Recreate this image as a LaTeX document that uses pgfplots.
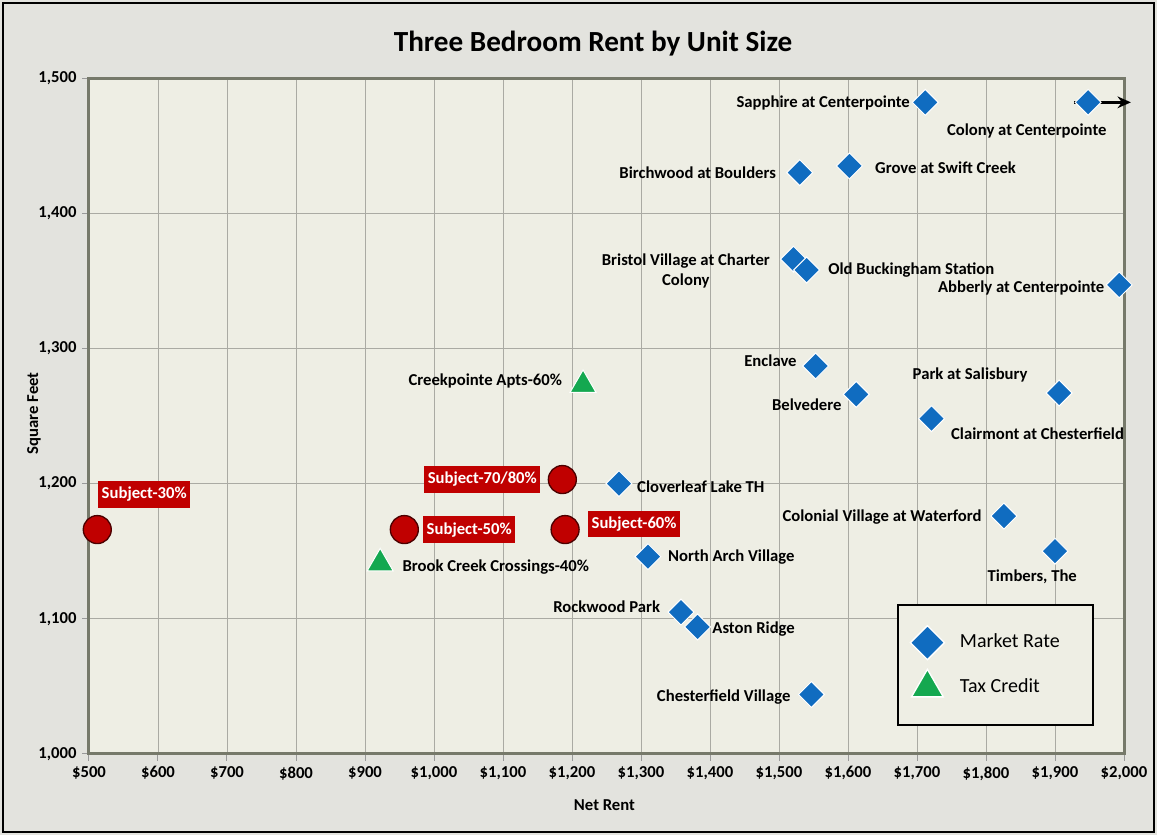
\documentclass[border=0pt]{standalone}
\usepackage{fontspec}
\setmainfont{Carlito}
\usepackage{pgfplots}
\pgfplotsset{compat=1.18}
\usetikzlibrary{arrows.meta,backgrounds}
\definecolor{cBlue}{RGB}{16,108,192}
\definecolor{cGreen}{RGB}{20,168,80}
\definecolor{cRed}{RGB}{192,0,0}
\definecolor{cBg}{RGB}{227,227,222}
\definecolor{cPlot}{RGB}{238,238,228}
\definecolor{cGrid}{RGB}{170,170,163}
\definecolor{cAxis}{RGB}{118,121,106}
\newcommand{\lblfont}{\bfseries\fontsize{10}{12}\selectfont}
\tikzset{lbl/.style={font=\lblfont, inner sep=0pt},
  subj/.style={font=\lblfont, fill=cRed, text=white, inner xsep=2pt, inner ysep=3.5pt}}

\pgfplotstableread{
x y
1712 1482
1948 1482
1530 1430
1602 1435
1521 1366
1540 1358
1993 1347
1553 1287
1612 1266
1906 1267
1721 1248
1268 1200
1826 1176
1900 1150
1310 1146
1358 1105
1382 1094
1547 1044
}\marketrate
\pgfplotstableread{
x y
1216 1273
922 1141
}\taxcredit
\pgfplotstableread{
x y
512 1166
957 1166
1186 1203
1190 1166
}\subject

\begin{document}
\begin{tikzpicture}
\begin{axis}[at={(0,0)}, anchor=south west,
  width=621pt, height=405.6pt, scale only axis,
  xmin=500, xmax=2000, ymin=1000, ymax=1500,
  xtick={500,600,...,2000}, ytick={1000,1100,...,1500},
  xticklabels={\$500,\$600,\$700,\$800,\$900,{\$1,000},{\$1,100},{\$1,200},{\$1,300},{\$1,400},{\$1,500},{\$1,600},{\$1,700},{\$1,800},{\$1,900},{\$2,000}},
  yticklabels={{1,000},{1,100},{1,200},{1,300},{1,400},{1,500}},
  grid=major, major grid style={draw=cGrid, line width=0.5pt},
  axis line style={draw=cAxis, line width=1.8pt},
  tick pos=left, tick align=outside, major tick length=4pt,
  tick style={draw=gray!80, line width=0.6pt},
  ticklabel style={font=\lblfont},
  axis background/.style={fill=cPlot},
  clip=false,
  title={Three Bedroom Rent by Unit Size},
  title style={at={(axis description cs:0.487,1)}, anchor=center, yshift=14.4pt, font=\bfseries\fontsize{17.5}{20}\selectfont},
  xlabel={Net Rent}, ylabel={Square Feet},
  xlabel style={at={(axis description cs:0.498,0)}, anchor=center, yshift=-30.6pt, font=\lblfont},
  ylabel style={at={(axis description cs:-0.0531,0.504)}, anchor=center, font=\lblfont},
  legend image code/.code={\path[draw=none,fill=none] (-10.5pt,-13.5pt) rectangle (10.5pt,13.5pt); \draw[#1] plot coordinates {(0pt,0pt)};},
  legend style={at={(axis cs:1671,1111)}, anchor=north west, draw=black, line width=1.5pt, fill=cPlot,
    font=\fontsize{12}{14}\selectfont, inner xsep=7pt, inner ysep=9pt, nodes={inner sep=0pt},
    /tikz/every odd column/.append style={column sep=9pt}},
  legend cell align=left,
]
\addlegendimage{only marks, mark=square*, mark size=7.2pt, mark options={rotate=45, fill=cBlue, draw=white, line width=0.8pt}}
\addlegendentry{\makebox[73pt][l]{\raisebox{1.5pt}{Market Rate}}}
\addlegendimage{only marks, mark=triangle*, mark size=11pt, mark options={fill=cGreen, draw=white, line width=0.8pt}}
\addlegendentry{\makebox[73pt][l]{\raisebox{1.5pt}{Tax Credit}}}

\addplot[only marks, forget plot, mark=square*, mark size=5.5pt, mark options={rotate=45, fill=cBlue, draw=white, line width=0.6pt}] table {\marketrate};
\addplot[only marks, forget plot, mark=triangle*, mark size=9pt, mark options={fill=cGreen, draw=white, line width=0.6pt}] table {\taxcredit};
\addplot[only marks, forget plot, mark=*, mark size=8.4pt, mark options={fill=cRed, draw=black!70!red, line width=0.8pt}] table {\subject};

\draw[-{Stealth[length=8pt,width=7pt]}, line width=1.4pt] (axis cs:1928,1482) -- (axis cs:2010,1482);

\node[lbl, anchor=east] at (axis cs:1690,1481.5) {Sapphire at Centerpointe};
\node[lbl] at (axis cs:1859,1461) {Colony at Centerpointe};
\node[lbl, anchor=east] at (axis cs:1496,1430) {Birchwood at Boulders};
\node[lbl, anchor=west] at (axis cs:1639,1434) {Grove at Swift Creek};
\node[lbl, align=center] at (axis cs:1365,1357) {Bristol Village at Charter\\Colony};
\node[lbl, anchor=west] at (axis cs:1571,1358) {Old Buckingham Station};
\node[lbl, anchor=east] at (axis cs:1972,1345) {Abberly at Centerpointe};
\node[lbl, anchor=east] at (axis cs:1526,1291) {Enclave};
\node[lbl, anchor=east] at (axis cs:1591,1258) {Belvedere};
\node[lbl] at (axis cs:1777,1280) {Park at Salisbury};
\node[lbl, anchor=west] at (axis cs:1749,1237) {Clairmont at Chesterfield};
\node[lbl, anchor=west] at (axis cs:1294,1197.5) {Cloverleaf Lake TH};
\node[lbl, anchor=east] at (axis cs:1794,1175) {Colonial Village at Waterford};
\node[lbl] at (axis cs:1867,1131) {Timbers, The};
\node[lbl, anchor=west] at (axis cs:1339,1146) {North Arch Village};
\node[lbl, anchor=east] at (axis cs:1328,1109) {Rockwood Park};
\node[lbl, anchor=west] at (axis cs:1403,1092.5) {Aston Ridge};
\node[lbl, anchor=east] at (axis cs:1517,1042) {Chesterfield Village};
\node[lbl, anchor=east] at (axis cs:1186,1276) {Creekpointe Apts-60\%};
\node[lbl, anchor=west] at (axis cs:954,1138) {Brook Creek Crossings-40\%};

\node[subj] at (axis cs:580,1192) {Subject-30\%};
\node[subj] at (axis cs:1070,1203) {Subject-70/80\%};
\node[subj] at (axis cs:1051,1166) {Subject-50\%};
\node[subj] at (axis cs:1290,1170) {Subject-60\%};
\end{axis}
\begin{pgfonlayer}{background}
\fill[cBg] (-53.4pt,-48.6pt) rectangle (640.8pt,452.4pt);
\draw[black, line width=1.5pt] (-51.6pt,-46.8pt) rectangle (639pt,450.6pt);
\end{pgfonlayer}
\end{tikzpicture}
\end{document}
